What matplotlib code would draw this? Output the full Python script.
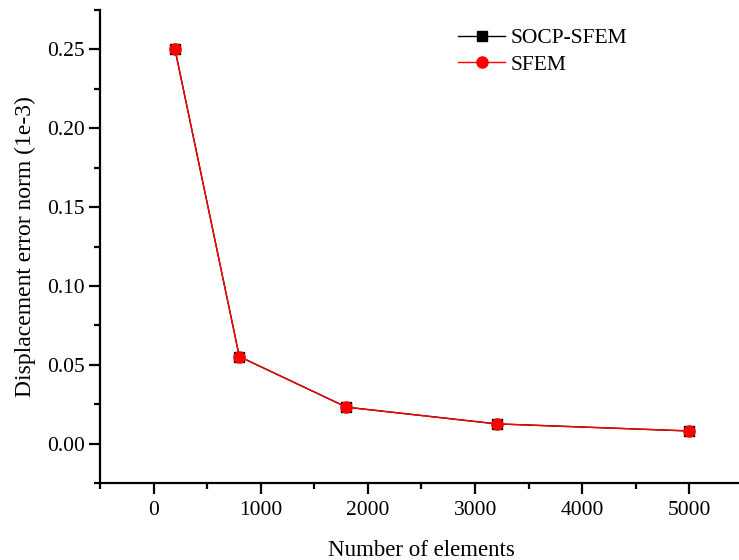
import matplotlib
matplotlib.use("Agg")
import matplotlib.pyplot as plt
from matplotlib.ticker import MultipleLocator

plt.rcParams['font.family'] = ['Liberation Serif', 'DejaVu Serif']

elements = [200, 800, 1800, 3200, 5000]
socp_sfem = [0.250, 0.0552, 0.0231, 0.0125, 0.0080]
sfem = [0.250, 0.0552, 0.0231, 0.0125, 0.0080]
ytick_vals = [0.0, 0.05, 0.10, 0.15, 0.20, 0.25]
ytick_labels = ['0.00', '0.05', '0.10', '0.15', '0.20', '0.25']

W, H = 739, 560
fig = plt.figure(figsize=(W / 100, H / 100), dpi=100)
ax = fig.add_axes([100 / W, 1 - 483 / H, 643 / W, 473 / H])

ax.plot(elements, socp_sfem, color='black', lw=1.0, marker='s', ms=7.5,
        mfc='black', mec='black', label='SOCP-SFEM', zorder=3)
ax.plot(elements, sfem, color='red', lw=1.0, marker='o', ms=8,
        mfc='red', mec='red', label='SFEM', zorder=4)

ax.set_xlim(-500, 5500)
ax.set_ylim(-0.025, 0.275)
ax.xaxis.set_major_locator(MultipleLocator(1000))
ax.xaxis.set_minor_locator(MultipleLocator(500))
ax.yaxis.set_minor_locator(MultipleLocator(0.025))
ax.set_yticks(ytick_vals)
ax.set_yticklabels(ytick_labels)

for s in ['top', 'right']:
    ax.spines[s].set_visible(False)
for s in ['left', 'bottom']:
    ax.spines[s].set_linewidth(1.6)

ax.tick_params(which='major', direction='out', length=8, width=1.6, labelsize=15.5)
ax.tick_params(axis='x', which='major', pad=5)
ax.tick_params(axis='y', which='major', pad=3)
ax.tick_params(which='minor', direction='out', length=4.5, width=1.6)

ax.set_xlabel('Number of elements', fontsize=16.5, labelpad=14)
ax.set_ylabel('Displacement error norm (1e-3)', fontsize=17, labelpad=8)

ax.legend(loc='upper left', bbox_to_anchor=(458 / W, 1 - 28 / H),
          bbox_transform=fig.transFigure, frameon=False,
          fontsize=15.5, handlelength=2.2, handletextpad=0.25, labelspacing=0.3,
          borderaxespad=0, borderpad=0)

fig.savefig('out.png', dpi=100)
